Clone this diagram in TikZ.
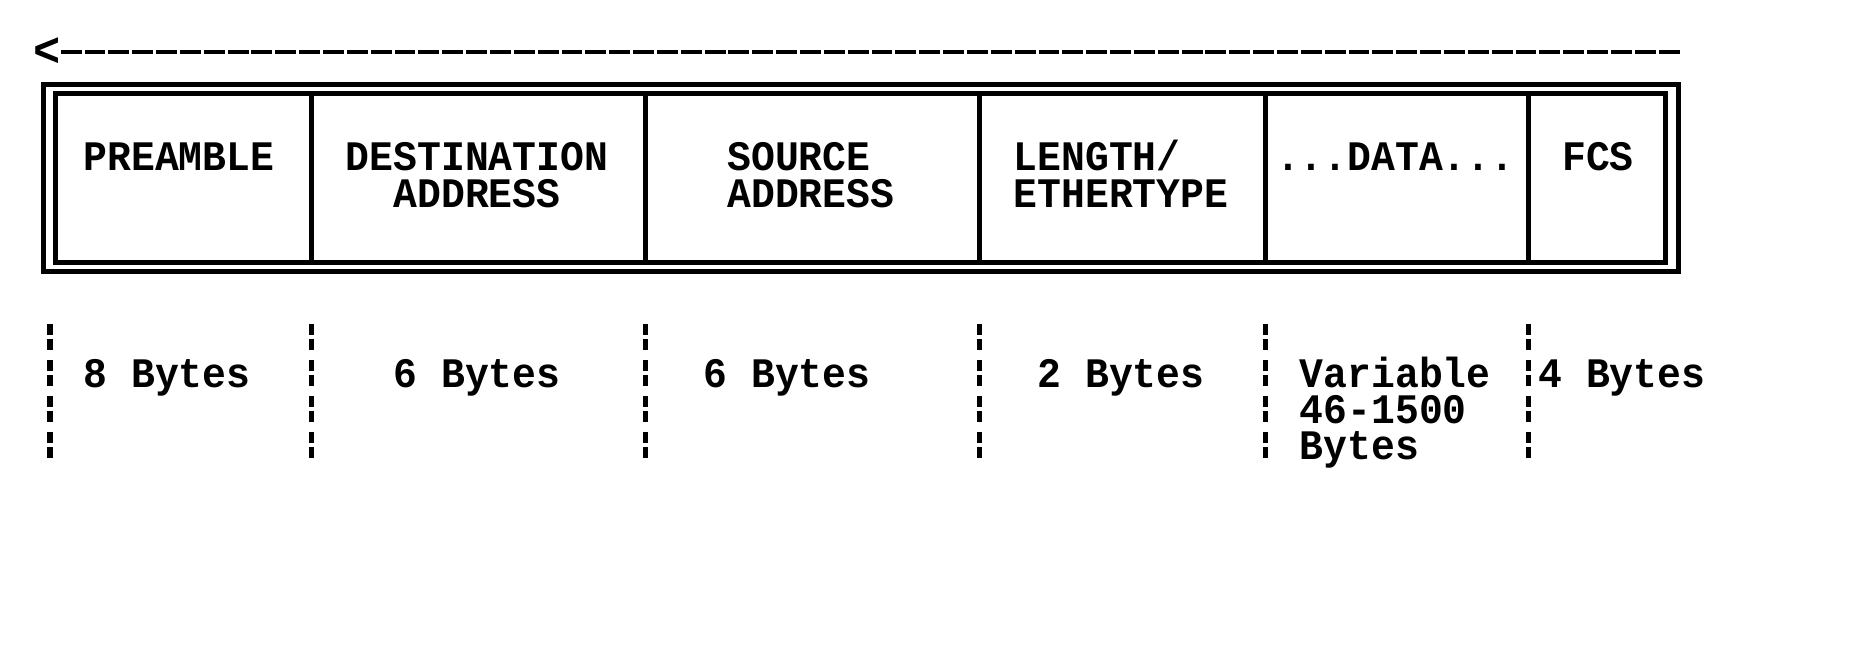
\documentclass[tikz,border=0pt]{standalone}
\usepackage{fontspec}
\newfontfamily\dosfam{Liberation Mono}[FakeStretch=0.946]
\newcommand\dosfont{\dosfam\bfseries\fontsize{42pt}{36pt}\selectfont}
\newcommand\dosbig{\dosfam\bfseries\fontsize{48pt}{48pt}\selectfont}
\tikzset{
  txt/.style={anchor=base west, inner sep=0pt, outer sep=0pt, font=\dosfont, text=black,
              text height=26pt, text depth=8pt},
  dashline/.style={line width=4.3pt, dash pattern=on 20.9pt off 2.95pt},
  frameline/.style={line width=4.8pt},
  divline/.style={line width=5.7pt},
  barline/.style={line width=5.5pt}
}
\def\W{23.85}
\def\Xo{83.5}
\begin{document}
\begin{tikzpicture}[x=1pt,y=-1pt]
\fill[white] (0,0) rectangle (1860,666);
\useasboundingbox (0,0) rectangle (1860,666);

% direction arrow
\node[txt, font=\dosbig, text height=26pt, text depth=0pt] (arr) at (33.4,66.7) {<};
\coordinate (dend) at (1681,51.7);
\draw[dashline] (arr.east |- dend) -- (dend);

% frame
\coordinate (o1) at (43.3,84.5);
\coordinate (o2) at (1678.5,271.7);
\coordinate (i1) at (55.8,93.7);
\coordinate (i2) at (1665.5,262.3);
\draw[frameline] (o1) rectangle (o2);
\draw[frameline] (i1) rectangle (i2);
\foreach \x in {311.6,645.5,979.4,1265.6,1528.5}
  \draw[divline] (\x,93.7) -- (\x,262.3);

% broken bars under the frame
\foreach \x in {49.8,311.6,645.5,979.4,1265.6,1528.5}
  \foreach \r in {0,1,2,3} {
    \draw[barline] (\x,{324+\r*36.1}) -- (\x,{335+\r*36.1});
    \draw[barline] (\x,{339+\r*36.1}) -- (\x,{349.5+\r*36.1});
  }

% field names
\node[txt] (pre)  at ({\Xo+0*\W},171) {PREAMBLE};
\node[txt] (dst1) at ({\Xo+11*\W},171) {DESTINATION};
\node[txt] (dst2) at ({\Xo+13*\W},207.1) {ADDRESS};
\node[txt] (src1) at ({\Xo+27*\W},171) {SOURCE};
\node[txt] (src2) at ({\Xo+27*\W},207.1) {ADDRESS};
\node[txt] (len1) at ({\Xo+39*\W},171) {LENGTH/};
\node[txt] (len2) at ({\Xo+39*\W},207.1) {ETHERTYPE};
\node[txt] (data) at ({\Xo+50*\W},171) {...DATA...};
\node[txt] (fcs)  at ({\Xo+62*\W},171) {FCS};

% sizes
\node[txt] (s1) at ({\Xo+0*\W},387.6) {8 Bytes};
\node[txt] (s2) at ({\Xo+13*\W},387.6) {6 Bytes};
\node[txt] (s3) at ({\Xo+26*\W},387.6) {6 Bytes};
\node[txt] (s4) at ({\Xo+40*\W},387.6) {2 Bytes};
\node[txt] (s5a) at ({\Xo+51*\W},387.6) {Variable};
\node[txt] (s5b) at ({\Xo+51*\W},423.7) {46-1500};
\node[txt] (s5c) at ({\Xo+51*\W},459.8) {Bytes};
\node[txt] (s6) at ({\Xo+61*\W},387.6) {4 Bytes};
\end{tikzpicture}
\end{document}
